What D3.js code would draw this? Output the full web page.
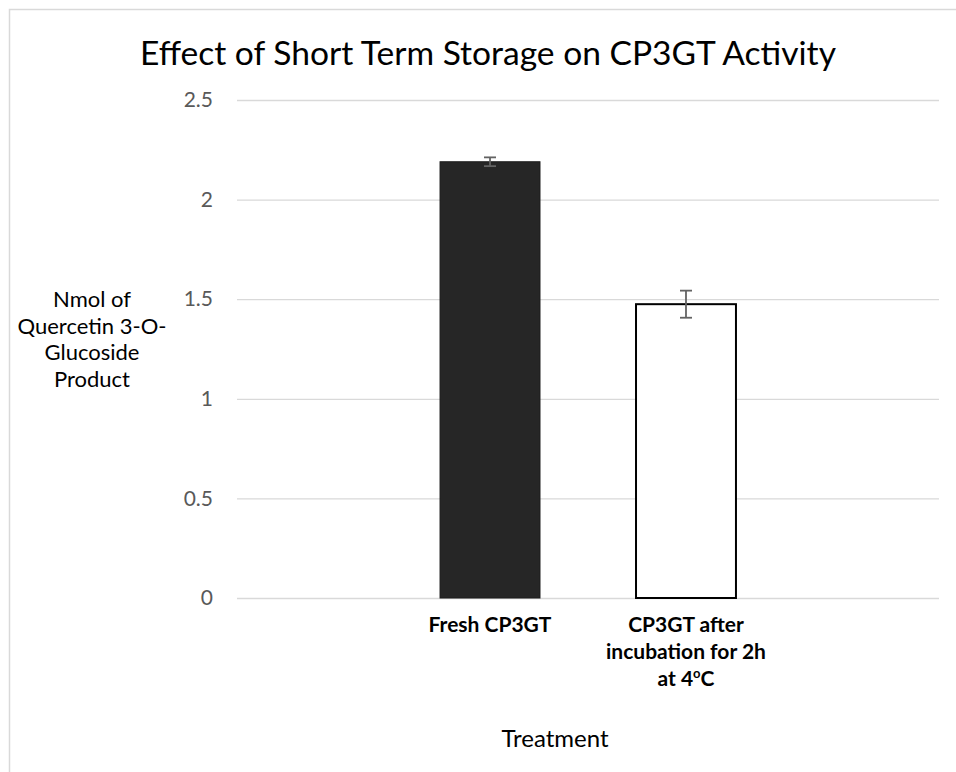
<!DOCTYPE html>
<html>
<head>
<meta charset="utf-8">
<script src="https://cdn.jsdelivr.net/npm/d3@7"></script>
<style>
  html, body { margin: 0; padding: 0; background: #fff; }
  svg { display: block; }
  text { font-family: Lato, "Open Sans", "DejaVu Sans", sans-serif; }
</style>
</head>
<body>
<svg id="chart" width="956" height="772"></svg>
<script>
// ---- data ----
const categories = ["Fresh CP3GT", "CP3GT after incubation for 2h at 4oC"];
const values = [2.19, 1.475];
const errors = [0.022, 0.068];
const yTicks = [0, 0.5, 1, 1.5, 2, 2.5];
const yTickLabels = ["0", "0.5", "1", "1.5", "2", "2.5"];
const title = "Effect of Short Term Storage on CP3GT Activity";
const yTitleLines = ["Nmol of", "Quercetin 3-O-", "Glucoside", "Product"];
const xTitle = "Treatment";
// label lines for each category (superscript marked with ^)
const catLabelLines = [["Fresh CP3GT"], ["CP3GT after", "incubation for 2h", "at 4^o^C"]];

const svg = d3.select("#chart");

// chart border
svg.append("rect").attr("x", 9.5).attr("y", 9.5).attr("width", 960).attr("height", 780)
  .attr("fill", "#fff").attr("stroke", "#d9d9d9").attr("stroke-width", 1.5);

const plot = { left: 237, right: 939, top: 100, bottom: 598 };

const y = d3.scaleLinear().domain([0, 2.5]).range([plot.bottom, plot.top]);
const x = d3.scaleBand().domain(categories).range([plot.left, plot.right])
  .paddingInner(0.49).paddingOuter(1.036);

// gridlines + tick labels
const yAxis = d3.axisLeft(y).tickValues(yTicks)
  .tickSize(-(plot.right - plot.left))
  .tickFormat((d, i) => yTickLabels[i]);
const gy = svg.append("g").attr("transform", `translate(${plot.left},0)`).call(yAxis);
gy.select(".domain").remove();
gy.selectAll(".tick line").attr("stroke", "#d9d9d9").attr("stroke-width", 1.3);
gy.selectAll(".tick text").attr("x", -24).attr("fill", "#595959")
  .style("font-size", "21px").style("font-family", "Lato, 'Open Sans', sans-serif");

// bars
const fills = ["#262626", "#ffffff"];
const strokes = ["#1c1c1c", "#000000"];
const strokeW = [1, 2];
svg.append("g").selectAll("rect").data(categories).join("rect")
  .attr("x", d => x(d))
  .attr("y", (d, i) => y(values[i]))
  .attr("width", x.bandwidth())
  .attr("height", (d, i) => y(0) - y(values[i]))
  .attr("fill", (d, i) => fills[i])
  .attr("stroke", (d, i) => strokes[i])
  .attr("stroke-width", (d, i) => strokeW[i]);

// error bars
const eg = svg.append("g").attr("stroke", "#636363").attr("stroke-width", 1.8).attr("fill", "none");
categories.forEach((c, i) => {
  const cx = x(c) + x.bandwidth() / 2;
  const y1 = y(values[i] + errors[i]), y2 = y(values[i] - errors[i]);
  eg.append("line").attr("x1", cx).attr("x2", cx).attr("y1", y1).attr("y2", y2);
  eg.append("line").attr("x1", cx - 6).attr("x2", cx + 6).attr("y1", y1).attr("y2", y1);
  eg.append("line").attr("x1", cx - 6).attr("x2", cx + 6).attr("y1", y2).attr("y2", y2);
});

// category labels
const lab = svg.append("g");
categories.forEach((c, i) => {
  const cx = x(c) + x.bandwidth() / 2;
  catLabelLines[i].forEach((ln, j) => {
    const t = lab.append("text").attr("x", cx).attr("y", 632 + j * 27)
      .attr("text-anchor", "middle").attr("fill", "#000")
      .style("font-size", "21px").style("font-weight", "bold");
    const parts = ln.split("^");
    parts.forEach((p, k) => {
      if (!p) return;
      const ts = t.append("tspan").text(p);
      if (k % 2 === 1) ts.attr("dy", -8).style("font-size", "13px");
      else if (k > 0) ts.attr("dy", 8);
    });
  });
});

// y title
yTitleLines.forEach((ln, j) => {
  svg.append("text").attr("x", 92).attr("y", 307 + j * 26.7)
    .attr("text-anchor", "middle").attr("fill", "#000")
    .style("font-size", "22px").text(ln);
});

// x title
svg.append("text").attr("x", 555).attr("y", 747).attr("text-anchor", "middle")
  .attr("fill", "#000").style("font-size", "24px").text(xTitle);

// title
const tt = svg.append("text").attr("x", 488).attr("y", 65).attr("text-anchor", "middle")
  .attr("fill", "#000").style("font-size", "32px").text(title);
const tw = tt.node().getComputedTextLength();
tt.style("font-size", (32 * 696 / tw).toFixed(2) + "px");
</script>
</body>
</html>
